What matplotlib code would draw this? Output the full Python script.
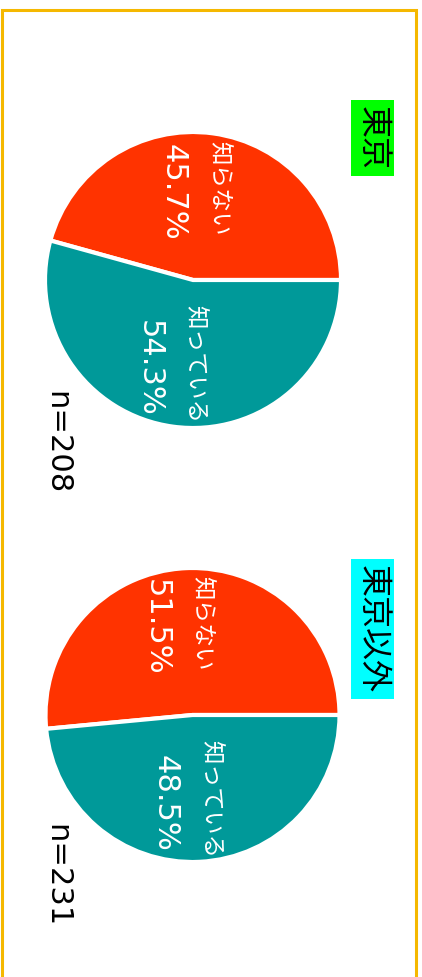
import matplotlib.pyplot as plt
from matplotlib.patches import Rectangle
from matplotlib.transforms import ScaledTranslation

# digits in DejaVu, kana/kanji fall back to Noto CJK
plt.rcParams['font.family'] = ['DejaVu Sans', 'Noto Sans CJK JP']

# データ
regions = ['東京', '東京以外']
region_colors = ['#00FF00', '#00FFFF']
answers = ['知らない', '知っている']
answer_colors = ['#FF3300', '#009999']
shares = [[45.7, 54.3], [51.5, 48.5]]
n_values = [208, 231]

W, H = 422, 977
fig = plt.figure(figsize=(W / 100, H / 100), dpi=100)

# pie layout in pixels (center x, center y from top, radius)
pie_boxes = [(193, 280, 148), (192.5, 715, 147)]
title_pos = [(372.5, 138), (372.5, 629)]
n_pos = [(57, 443), (57, 876)]

for i, region in enumerate(regions):
    cx, cy, r = pie_boxes[i]
    ax = fig.add_axes([(cx - r) / W, 1 - (cy + r) / H, 2 * r / W, 2 * r / H])
    wedges, texts, autotexts = ax.pie(
        shares[i], colors=answer_colors, labels=answers,
        startangle=0, counterclock=True,
        labeldistance=0.6, autopct='%.1f%%', pctdistance=0.6,
        wedgeprops=dict(edgecolor='white', linewidth=3),
        textprops=dict(color='white', rotation=-90, ha='center', va='center'))
    ax.set_xlim(-1, 1)
    ax.set_ylim(-1, 1)

    # name line sits right of the percentage line (rotated text)
    for t in texts:
        t.set_fontsize(17)
        t.set_transform(ax.transData + ScaledTranslation(0.15, 0.04, fig.dpi_scale_trans))
    for t in autotexts:
        t.set_fontsize(22)
        t.set_transform(ax.transData + ScaledTranslation(-0.32, 0, fig.dpi_scale_trans))

    tx, ty = title_pos[i]
    fig.text(tx / W, 1 - ty / H, region, rotation=-90, ha='center', va='center',
             fontsize=23, color='black',
             bbox=dict(boxstyle='square,pad=0.2', facecolor=region_colors[i], edgecolor='none'))

    nx, ny = n_pos[i]
    fig.text(nx / W, 1 - ny / H, f'n={n_values[i]}', rotation=-90, ha='center', va='center',
             fontsize=22, color='black')

# frame
fig.add_artist(Rectangle((1.5 / W, -0.01), (416 - 1.5) / W, 1 - 10 / H + 0.01,
                         transform=fig.transFigure, fill=False,
                         edgecolor='#F5B800', linewidth=2.2))

fig.savefig('out.png', dpi=100)
